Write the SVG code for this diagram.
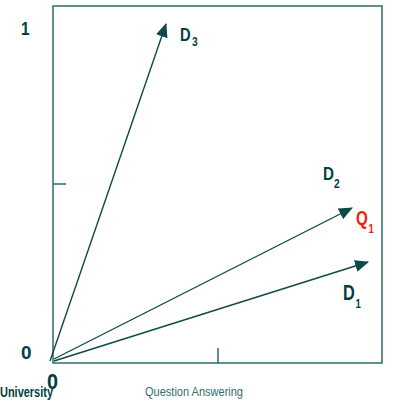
<svg xmlns="http://www.w3.org/2000/svg" width="404" height="401" viewBox="0 0 404 401">
<style>
.ax{fill:none;stroke:#2e6b68;stroke-width:1.5}
.vec{stroke:#0d4a47;stroke-width:1.4;fill:none}
.lbl{font-family:"Liberation Sans","DejaVu Sans Condensed",sans-serif;fill:#004040;font-weight:bold}
.sub{font-size:12px}
.q{fill:#f02010}
.qa{font-family:"Liberation Sans","DejaVu Sans Condensed",sans-serif;fill:#336e6c;font-size:13px}
</style>
<defs>
<marker id="ah" markerUnits="userSpaceOnUse" markerWidth="14" markerHeight="12" viewBox="0 0 14 12" refX="13" refY="6" orient="auto">
<path d="M0,0 L14,6 L0,12 Z" fill="#0d4a47"/>
</marker>
</defs>
<rect x="0" y="0" width="404" height="401" fill="#ffffff"/>
<g id="axes">
<rect class="ax" x="53" y="6" width="329" height="357"/>
<line class="ax" x1="53" y1="184" x2="66" y2="184"/>
<line class="ax" x1="218" y1="348" x2="218" y2="363"/>
</g>
<g id="connectors">
<line class="vec" x1="50" y1="361" x2="166" y2="24" marker-end="url(#ah)"/>
<line class="vec" x1="54" y1="359" x2="352" y2="208" marker-end="url(#ah)"/>
<line class="vec" x1="54" y1="361" x2="368" y2="262" marker-end="url(#ah)"/>
</g>
<g id="D3">
<text class="lbl" font-size="18" transform="translate(180,41) scale(0.82,1)">D</text>
<text class="lbl sub" transform="translate(192,45.5) scale(0.85,1)">3</text>
</g>
<g id="D2">
<text class="lbl" font-size="19" transform="translate(323,180) scale(0.8,1)">D</text>
<text class="lbl sub" transform="translate(334,188) scale(0.85,1)">2</text>
</g>
<g id="Q1">
<text class="lbl q" font-size="20" transform="translate(356,225) scale(0.76,1)">Q</text>
<text class="lbl sub q" transform="translate(368.5,233) scale(0.8,1)">1</text>
</g>
<g id="D1">
<text class="lbl" font-size="22" transform="translate(343,300) scale(0.74,1)">D</text>
<text class="lbl sub" transform="translate(355.5,308) scale(0.8,1)">1</text>
</g>
<g id="labels">
<text class="lbl" font-size="18" transform="translate(21,35) scale(0.85,1)">1</text>
<text class="lbl" font-size="18" transform="translate(21,359) scale(1.05,1)">0</text>
<text class="lbl" font-size="22" transform="translate(47,389) scale(0.9,1)">0</text>
<text class="lbl" font-size="14" x="0" y="397" textLength="53" lengthAdjust="spacingAndGlyphs">University</text>
<text class="qa" x="145" y="396" textLength="98" lengthAdjust="spacingAndGlyphs">Question Answering</text>
</g>
</svg>
